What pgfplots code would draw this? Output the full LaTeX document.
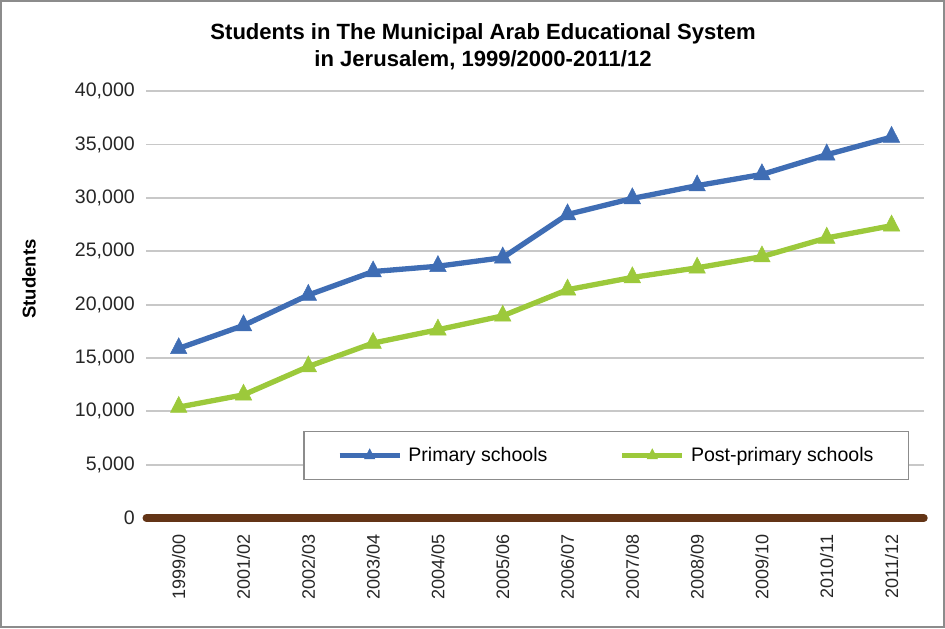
\documentclass[border=0pt]{standalone}
\usepackage{pgfplots}
\pgfplotsset{compat=1.18}
\usepackage{pgfplotstable}
\usepackage{fontspec}
\setmainfont{Liberation Sans}

\definecolor{primblue}{RGB}{63,109,180}
\definecolor{postgreen}{RGB}{156,201,59}
\definecolor{zerobrown}{RGB}{99,52,22}
\definecolor{gridgray}{RGB}{200,200,200}
\definecolor{framegray}{RGB}{140,140,140}

% students per school year
\pgfplotstableread{
idx primary post
0  15900 10400
1  18050 11550
2  20900 14200
3  23100 16400
4  23600 17650
5  24400 18950
6  28450 21400
7  29950 22550
8  31150 23450
9  32200 24500
10 34050 26250
11 35700 27400
}\students

\begin{document}
\begin{tikzpicture}
\begin{axis}[
    scale only axis,
    width=776pt, height=426pt,
    xmin=-0.5, xmax=11.5,
    ymin=0, ymax=40000,
    ytick={0,5000,...,40000},
    scaled y ticks=false,
    /pgf/number format/.cd, 1000 sep={,}, assume math mode=true,
    /pgfplots/.cd,
    xtick=data,
    xticklabels={1999/00,2001/02,2002/03,2003/04,2004/05,2005/06,2006/07,2007/08,2008/09,2009/10,2010/11,2011/12},
    axis x line=bottom,
    axis y line=left,
    x axis line style={-, line width=7.5pt, color=zerobrown, line cap=round},
    y axis line style={draw=none},
    major tick length=0pt,
    ymajorgrids,
    major grid style={gridgray, line width=1.8pt},
    tick label style={text=black!85},
    xticklabel style={rotate=90, anchor=east, font=\fontsize{18}{21}\selectfont},
    xticklabel shift=13pt,
    yticklabel style={font=\fontsize{19.5}{22}\selectfont},
    yticklabel shift=8pt,
    ylabel={Students},
    ylabel style={at={(axis description cs:-0.151,0.56)}, anchor=center,
        font=\bfseries\fontsize{18.5}{22}\selectfont},
    title={Students in The Municipal Arab Educational System\\in Jerusalem, 1999/2000-2011/12},
    title style={at={(axis description cs:0.433,1)}, anchor=south, yshift=12pt,
        align=center, font=\bfseries\fontsize{22}{27}\selectfont},
    legend columns=2,
    legend style={at={(0.981,0.089)}, anchor=south east,
        draw=framegray, line width=1.3pt,
        font=\fontsize{19.5}{22}\selectfont,
        inner xsep=33pt, inner ysep=14pt,
        /tikz/every odd column/.append style={column sep=4pt},
        /tikz/every even column/.append style={column sep=70pt}},
    legend image code/.code={%
        \draw[mark repeat=2, mark phase=2, mark size=6pt]
        plot coordinates {(0pt,0pt) (30pt,0pt) (60pt,0pt)};},
]
\addplot[primblue, line width=5.3pt, mark=triangle*, mark size=9.5pt,
    mark options={line width=0.5pt, yscale=1.12}]
    table[x=idx, y=primary] {\students};
\addlegendentry{Primary schools}
\addplot[postgreen, line width=5.3pt, mark=triangle*, mark size=9.5pt,
    mark options={line width=0.5pt, yscale=1.12}]
    table[x=idx, y=post] {\students};
\addlegendentry{Post-primary schools}
\end{axis}
\draw[framegray, line width=2pt] (-145pt,-109pt) rectangle (796pt,516pt);
\end{tikzpicture}
\end{document}
